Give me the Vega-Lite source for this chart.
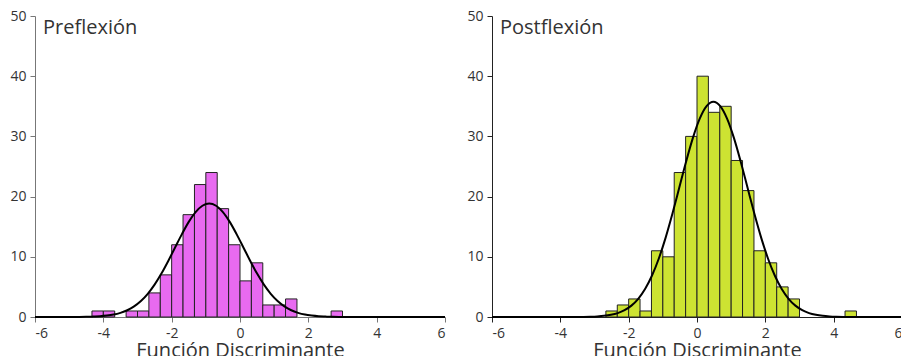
{
  "$schema": "https://vega.github.io/schema/vega-lite/v6.json",
  "padding": {"left": 9, "top": 9, "right": -5, "bottom": -4},
  "spacing": 47,
  "bounds": "flush",
  "config": {
    "view": {"stroke": null},
    "font": "Open Sans",
    "axis": {
      "grid": false,
      "labelFont": "Open Sans",
      "labelFontSize": 14,
      "labelColor": "#333333",
      "tickSize": 5,
      "labelPadding": 4,
      "labelExpr": "'' + datum.value",
      "titleFont": "Open Sans",
      "titleFontSize": 20,
      "titleFontWeight": "normal",
      "titleColor": "#333333"
    }
  },
  "datasets": {
    "preBins": [
      {"start": -4.333, "end": -4.0, "count": 1},
      {"start": -4.0, "end": -3.667, "count": 1},
      {"start": -3.333, "end": -3.0, "count": 1},
      {"start": -3.0, "end": -2.667, "count": 1},
      {"start": -2.667, "end": -2.333, "count": 4},
      {"start": -2.333, "end": -2.0, "count": 7},
      {"start": -2.0, "end": -1.667, "count": 12},
      {"start": -1.667, "end": -1.333, "count": 17},
      {"start": -1.333, "end": -1.0, "count": 22},
      {"start": -1.0, "end": -0.667, "count": 24},
      {"start": -0.667, "end": -0.333, "count": 18},
      {"start": -0.333, "end": 0.0, "count": 12},
      {"start": 0.0, "end": 0.333, "count": 6},
      {"start": 0.333, "end": 0.667, "count": 9},
      {"start": 0.667, "end": 1.0, "count": 2},
      {"start": 1.0, "end": 1.333, "count": 2},
      {"start": 1.333, "end": 1.667, "count": 3},
      {"start": 2.667, "end": 3.0, "count": 1}
    ],
    "postBins": [
      {"start": -2.667, "end": -2.333, "count": 1},
      {"start": -2.333, "end": -2.0, "count": 2},
      {"start": -2.0, "end": -1.667, "count": 3},
      {"start": -1.667, "end": -1.333, "count": 1},
      {"start": -1.333, "end": -1.0, "count": 11},
      {"start": -1.0, "end": -0.667, "count": 10},
      {"start": -0.667, "end": -0.333, "count": 24},
      {"start": -0.333, "end": 0.0, "count": 30},
      {"start": 0.0, "end": 0.333, "count": 40},
      {"start": 0.333, "end": 0.667, "count": 34},
      {"start": 0.667, "end": 1.0, "count": 35},
      {"start": 1.0, "end": 1.333, "count": 26},
      {"start": 1.333, "end": 1.667, "count": 21},
      {"start": 1.667, "end": 2.0, "count": 11},
      {"start": 2.0, "end": 2.333, "count": 9},
      {"start": 2.333, "end": 2.667, "count": 5},
      {"start": 2.667, "end": 3.0, "count": 3},
      {"start": 4.333, "end": 4.667, "count": 1}
    ],
    "preCurve": [
      {"x": -6, "y": 0}, {"x": -5.5, "y": 0}, {"x": -4.9, "y": 0.01}, {"x": -4.7, "y": 0.02},
      {"x": -4.5, "y": 0.03}, {"x": -4.3, "y": 0.07}, {"x": -4.1, "y": 0.12}, {"x": -3.9, "y": 0.23},
      {"x": -3.7, "y": 0.4}, {"x": -3.5, "y": 0.69}, {"x": -3.3, "y": 1.12}, {"x": -3.1, "y": 1.76},
      {"x": -2.9, "y": 2.65}, {"x": -2.7, "y": 3.85}, {"x": -2.5, "y": 5.37}, {"x": -2.3, "y": 7.21},
      {"x": -2.1, "y": 9.31}, {"x": -1.9, "y": 11.55}, {"x": -1.7, "y": 13.77}, {"x": -1.5, "y": 15.8},
      {"x": -1.3, "y": 17.43}, {"x": -1.1, "y": 18.48}, {"x": -0.9, "y": 18.85}, {"x": -0.7, "y": 18.48},
      {"x": -0.5, "y": 17.43}, {"x": -0.3, "y": 15.8}, {"x": -0.1, "y": 13.77}, {"x": 0.1, "y": 11.55},
      {"x": 0.3, "y": 9.31}, {"x": 0.5, "y": 7.21}, {"x": 0.7, "y": 5.37}, {"x": 0.9, "y": 3.85},
      {"x": 1.1, "y": 2.65}, {"x": 1.3, "y": 1.76}, {"x": 1.5, "y": 1.12}, {"x": 1.7, "y": 0.69},
      {"x": 1.9, "y": 0.4}, {"x": 2.1, "y": 0.23}, {"x": 2.3, "y": 0.12}, {"x": 2.5, "y": 0.07},
      {"x": 2.7, "y": 0.03}, {"x": 2.9, "y": 0.02}, {"x": 3.1, "y": 0.01}, {"x": 3.7, "y": 0},
      {"x": 4.5, "y": 0}, {"x": 6, "y": 0}
    ],
    "postCurve": [
      {"x": -6, "y": 0}, {"x": -5, "y": 0}, {"x": -4.2, "y": 0}, {"x": -3.52, "y": 0.01},
      {"x": -3.32, "y": 0.02}, {"x": -3.12, "y": 0.05}, {"x": -2.92, "y": 0.1}, {"x": -2.72, "y": 0.19},
      {"x": -2.52, "y": 0.36}, {"x": -2.32, "y": 0.65}, {"x": -2.12, "y": 1.14}, {"x": -1.92, "y": 1.89},
      {"x": -1.72, "y": 3.02}, {"x": -1.52, "y": 4.64}, {"x": -1.32, "y": 6.85}, {"x": -1.12, "y": 9.68},
      {"x": -0.92, "y": 13.15}, {"x": -0.72, "y": 17.15}, {"x": -0.52, "y": 21.46}, {"x": -0.32, "y": 25.79},
      {"x": -0.12, "y": 29.75}, {"x": 0.08, "y": 32.95}, {"x": 0.28, "y": 35.03}, {"x": 0.48, "y": 35.75},
      {"x": 0.68, "y": 35.03}, {"x": 0.88, "y": 32.95}, {"x": 1.08, "y": 29.75}, {"x": 1.28, "y": 25.79},
      {"x": 1.48, "y": 21.46}, {"x": 1.68, "y": 17.15}, {"x": 1.88, "y": 13.15}, {"x": 2.08, "y": 9.68},
      {"x": 2.28, "y": 6.85}, {"x": 2.48, "y": 4.64}, {"x": 2.68, "y": 3.02}, {"x": 2.88, "y": 1.89},
      {"x": 3.08, "y": 1.14}, {"x": 3.28, "y": 0.65}, {"x": 3.48, "y": 0.36}, {"x": 3.68, "y": 0.19},
      {"x": 3.88, "y": 0.1}, {"x": 4.08, "y": 0.05}, {"x": 4.28, "y": 0.02}, {"x": 4.48, "y": 0.01},
      {"x": 5.1, "y": 0}, {"x": 6, "y": 0}
    ]
  },
  "hconcat": [
    {
      "width": 410,
      "height": 301,
      "layer": [
        {
          "data": {"name": "preBins"},
          "mark": {"type": "bar", "fill": "#E86AF0", "stroke": "#222222", "strokeWidth": 1},
          "encoding": {
            "x": {
              "field": "start", "type": "quantitative",
              "scale": {"domain": [-6, 6], "nice": false},
              "axis": {"values": [-6, -4, -2, 0, 2, 4, 6], "title": "Función Discriminante", "titlePadding": 0, "domainColor": "#777777", "tickColor": "#777777"}
            },
            "x2": {"field": "end"},
            "y": {
              "field": "count", "type": "quantitative",
              "scale": {"domain": [0, 50], "nice": false},
              "axis": {"values": [0, 10, 20, 30, 40, 50], "title": null, "domainColor": "#777777", "tickColor": "#777777"}
            },
            "y2": {"datum": 0}
          }
        },
        {
          "data": {"name": "preCurve"},
          "mark": {"type": "line", "color": "#000000", "strokeWidth": 2, "interpolate": "monotone"},
          "encoding": {
            "x": {"field": "x", "type": "quantitative"},
            "y": {"field": "y", "type": "quantitative"}
          }
        },
        {
          "data": {"values": [{"label": "Preflexión"}]},
          "mark": {"type": "text", "align": "left", "baseline": "top", "fontSize": 20, "color": "#333333", "dx": 8, "dy": 2},
          "encoding": {
            "x": {"datum": -6, "type": "quantitative"},
            "y": {"datum": 50, "type": "quantitative"},
            "text": {"field": "label"}
          }
        }
      ]
    },
    {
      "width": 410,
      "height": 301,
      "layer": [
        {
          "data": {"name": "postBins"},
          "mark": {"type": "bar", "fill": "#CDE332", "stroke": "#222222", "strokeWidth": 1},
          "encoding": {
            "x": {
              "field": "start", "type": "quantitative",
              "scale": {"domain": [-6, 6], "nice": false},
              "axis": {"values": [-6, -4, -2, 0, 2, 4, 6], "title": "Función Discriminante", "titlePadding": 0, "domainColor": "#222222", "tickColor": "#222222"}
            },
            "x2": {"field": "end"},
            "y": {
              "field": "count", "type": "quantitative",
              "scale": {"domain": [0, 50], "nice": false},
              "axis": {"values": [0, 10, 20, 30, 40, 50], "title": null, "domainColor": "#222222", "tickColor": "#222222"}
            },
            "y2": {"datum": 0}
          }
        },
        {
          "data": {"name": "postCurve"},
          "mark": {"type": "line", "color": "#000000", "strokeWidth": 2, "interpolate": "monotone"},
          "encoding": {
            "x": {"field": "x", "type": "quantitative"},
            "y": {"field": "y", "type": "quantitative"}
          }
        },
        {
          "data": {"values": [{"label": "Postflexión"}]},
          "mark": {"type": "text", "align": "left", "baseline": "top", "fontSize": 20, "color": "#333333", "dx": 8, "dy": 2},
          "encoding": {
            "x": {"datum": -6, "type": "quantitative"},
            "y": {"datum": 50, "type": "quantitative"},
            "text": {"field": "label"}
          }
        }
      ]
    }
  ]
}
